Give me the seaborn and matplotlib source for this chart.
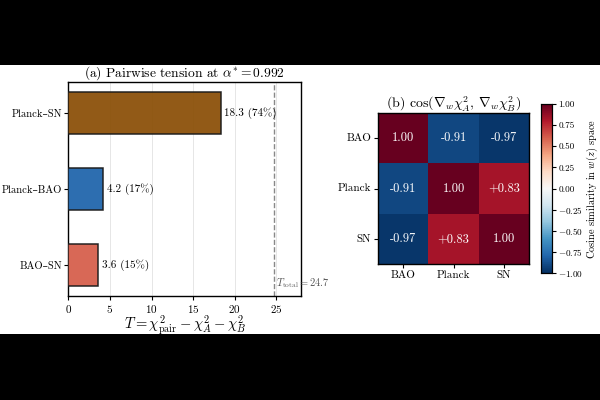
import numpy as np
import pandas as pd
import matplotlib
matplotlib.use("Agg")
import matplotlib.pyplot as plt
from matplotlib.patches import Rectangle
import seaborn as sns

# ---- data ----
pairs = ["Planck–SN", "Planck–BAO", "BAO–SN"]
tension = [18.3, 4.2, 3.6]
pct_labels = ["18.3 (74%)", "4.2 (17%)", "3.6 (15%)"]
bar_colors = ["#8c510a", "#2166ac", "#d6604d"]
t_total = 24.7
alpha_star = 0.992

probes = ["BAO", "Planck", "SN"]
cos_sim = [[1.00, -0.91, -0.97],
           [-0.91, 1.00, 0.83],
           [-0.97, 0.83, 1.00]]
cos_text = [["1.00", "-0.91", "-0.97"],
            ["-0.91", "1.00", "+0.83"],
            ["-0.97", "+0.83", "1.00"]]

sns.set_theme(style="ticks")
plt.rcParams["font.family"] = ["cmr10", "DejaVu Serif"]
plt.rcParams["mathtext.fontset"] = "cm"
plt.rcParams["axes.formatter.use_mathtext"] = True
plt.rcParams["axes.edgecolor"] = "black"
plt.rcParams["xtick.color"] = "black"
plt.rcParams["ytick.color"] = "black"
plt.rcParams["text.color"] = "black"
plt.rcParams["axes.labelcolor"] = "black"

fig = plt.figure(figsize=(6, 4), dpi=100, facecolor="black")
fig.patches.append(Rectangle((0, 0.165), 1, 0.6725, transform=fig.transFigure,
                             facecolor="white", edgecolor="none", zorder=-10))

# ---- panel (a) ----
ax = fig.add_axes([0.114, 0.26, 0.388, 0.535])
df = pd.DataFrame({"pair": pairs, "T": tension})
sns.barplot(data=df, x="T", y="pair", hue="pair", palette=bar_colors, legend=False,
            orient="h", width=0.56, edgecolor="#1a1a1a", linewidth=1.1, alpha=0.95,
            saturation=1, ax=ax, zorder=3)
ax.set_axisbelow(True)
ax.grid(axis="x", color="#e6e6e6", linewidth=0.7, zorder=0)
for i, (v, s) in enumerate(zip(tension, pct_labels)):
    ax.text(v + 0.4, i, s, va="center", ha="left", fontsize=8)
ax.axvline(t_total, color="#888888", linestyle="--", linewidth=1.0, zorder=2)
ax.text(t_total + 0.3, 2.33, r"$T_{\rm total} = %.1f$" % t_total, fontsize=7.5,
        color="#555555", ha="left", va="bottom")
ax.set_xlim(0, 28)
ax.set_ylim(2.41, -0.41)
ax.set_xticks([0, 5, 10, 15, 20, 25])
ax.set_ylabel("")
ax.set_xlabel(r"$T = \chi^2_{\rm pair} - \chi^2_A - \chi^2_B$", fontsize=10.5)
ax.xaxis.set_label_coords(0.5, -0.082)
ax.set_title(r"(a) Pairwise tension at $\alpha^{*} = %.3f$" % alpha_star, fontsize=9.7, pad=3)
ax.tick_params(axis="x", labelsize=8, length=3, width=0.8, pad=2)
ax.tick_params(axis="y", labelsize=7.6, length=3, width=0.8, pad=1.5)
for sp in ax.spines.values():
    sp.set_visible(True)
    sp.set_color("black")
    sp.set_linewidth(1.0)

# ---- panel (b) ----
ax2 = fig.add_axes([0.630, 0.34, 0.252, 0.3775])
cax = fig.add_axes([0.902, 0.3175, 0.018, 0.4225])
cm = pd.DataFrame(cos_sim, index=probes, columns=probes)
sns.heatmap(cm, ax=ax2, cbar_ax=cax, cmap="RdBu_r", vmin=-1, vmax=1,
            annot=np.array(cos_text), fmt="", annot_kws={"color": "white", "fontsize": 9},
            square=False, cbar_kws={"ticks": np.arange(-1, 1.01, 0.25)})
ax2.set_title(r"(b) $\cos(\nabla_w \chi^2_A,\, \nabla_w \chi^2_B)$", fontsize=10, pad=3)
ax2.tick_params(axis="both", labelsize=8, length=3, width=0.8, pad=2)
ax2.set_yticklabels(probes, rotation=0)
ax2.set_xticklabels(probes, rotation=0)
for sp in ax2.spines.values():
    sp.set_visible(True)
    sp.set_color("black")
    sp.set_linewidth(1.0)
cax.tick_params(labelsize=6.6, length=3, width=0.8, pad=1.5)
cax.yaxis.set_major_formatter(matplotlib.ticker.FuncFormatter(
    lambda v, p: ("$-$" if v < -1e-9 else "") + "%.2f" % abs(v)))
cax.set_ylabel(r"Cosine similarity in $w(z)$ space", fontsize=7.4, labelpad=1)
for sp in cax.spines.values():
    sp.set_visible(True)
    sp.set_color("black")
    sp.set_linewidth(0.8)

fig.savefig("out.png", dpi=100, facecolor=fig.get_facecolor())
